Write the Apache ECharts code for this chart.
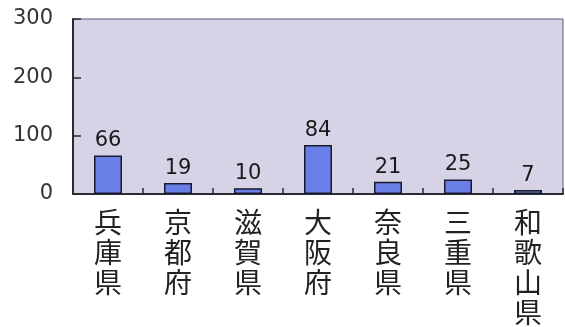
<!DOCTYPE html>
<html>
<head>
<meta charset="utf-8">
<script src="https://cdn.jsdelivr.net/npm/echarts@6/dist/echarts.min.js"></script>
<style>
html,body{margin:0;padding:0;background:#fff;}
#c{width:565px;height:327px;}
</style>
</head>
<body>
<div id="c"></div>
<script>
var categories = ['兵庫県','京都府','滋賀県','大阪府','奈良県','三重県','和歌山県'];
var values = [66, 19, 10, 84, 21, 25, 7];
var yTicks = [0, 100, 200, 300];

var chart = echarts.init(document.getElementById('c'), null, {renderer: 'canvas'});
chart.setOption({
  animation: false,
  backgroundColor: '#ffffff',
  grid: {
    left: 73, top: 19, right: 2, bottom: 130,
    show: true, backgroundColor: '#d7d3e7', borderColor: '#5a5f7a', borderWidth: 1
  },
  xAxis: {
    type: 'category',
    data: categories,
    axisLine: {lineStyle: {color: '#2a2a33', width: 2}},
    axisTick: {show: true, inside: true, length: 6, lineStyle: {color: '#2a2a33', width: 1.5}},
    axisLabel: {
      interval: 0,
      margin: 13,
      color: '#222',
      fontFamily: 'Noto Sans CJK JP',
      fontSize: 28,
      lineHeight: 30,
      formatter: function (v) { return v.split('').join('\n'); }
    }
  },
  yAxis: {
    type: 'value',
    min: yTicks[0],
    max: yTicks[yTicks.length - 1],
    interval: 100,
    splitLine: {show: false},
    axisLine: {show: true, lineStyle: {color: '#2a2a33', width: 2}},
    axisTick: {show: true, inside: true, length: 8, lineStyle: {color: '#2a2a33', width: 1.5}},
    axisLabel: {
      margin: 20,
      color: '#333',
      fontFamily: 'DejaVu Sans',
      fontSize: 21
    }
  },
  series: [{
    type: 'bar',
    data: values,
    barWidth: 28,
    itemStyle: {color: '#6a7ee8', borderColor: '#1a1a2a', borderWidth: 1.5},
    label: {
      show: true,
      position: 'top',
      distance: 4,
      color: '#1a1a1a',
      fontFamily: 'DejaVu Sans',
      fontSize: 21
    }
  }]
});
</script>
</body>
</html>
